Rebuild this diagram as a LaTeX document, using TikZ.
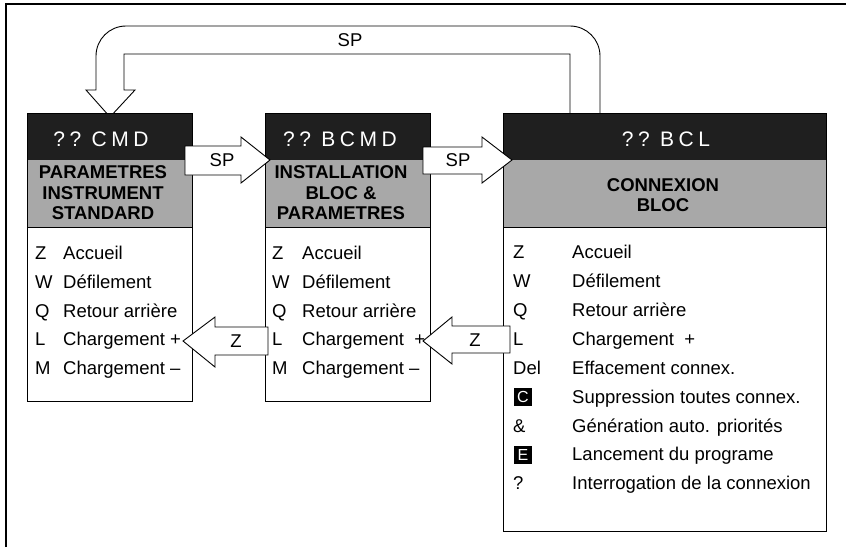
\documentclass[tikz,border=0pt]{standalone}
\usepackage{fontspec}
\setmainfont{Liberation Sans}
\begin{document}
\begin{tikzpicture}[x=1pt,y=-1pt]
\tikzset{
  frameline/.style={line width=1.4pt},
  boxline/.style={draw=black, line width=1pt},
  hdrfill/.style={fill=black!88},
  bandfill/.style={fill=black!34},
  blockarrow/.style={draw=black, fill=white, line width=0.9pt, line join=miter},
  hdrtext/.style={text=white, inner sep=0pt, font=\fontsize{21}{21}\selectfont},
  bandtext/.style={inner sep=0pt, align=center, font=\bfseries\fontsize{18.5}{20.5}\selectfont},
  itemtext/.style={anchor=base west, inner sep=0pt, font=\fontsize{18.5}{20}\selectfont},
  lbl/.style={inner sep=0pt, font=\fontsize{18.5}{20}\selectfont},
  capletter/.style={text=white, inner sep=0pt, font=\fontsize{16}{16}\selectfont}
}
\newcommand{\gap}{\kern4.5pt}
% canvas
\useasboundingbox (0,0) rectangle (846,547);
\fill[white] (0,0) rectangle (846,547);
\draw[frameline] (6,547) -- (6,4) -- (846,4);

% return loop from BCL back to CMD
\draw[blockarrow] (570,113) -- (570,54) -- (124,54) -- (124,90) -- (135,90) -- (110,117)
  -- (86,90) -- (96,90) -- (96,56) .. controls (96,39.4) and (109.4,26) .. (126,26)
  -- (570,26) .. controls (586.6,26) and (600,39.4) .. (600,56) -- (600,113);
\node[lbl] (sploop) at (350,40) {SP};

% box CMD
\fill[hdrfill] (27,113) rectangle (192,160);
\fill[bandfill] (27,160) rectangle (192,227);
\draw[boxline] (27,113) rectangle (192,401);
\draw[boxline] (27,227) -- (192,227);
\node[hdrtext] (h1) at (101,139) {?\gap?\gap\ C\gap M\gap D};
\node[bandtext] (t1) at (103,193) {PARAMETRES\\INSTRUMENT\\STANDARD};

% box BCMD
\fill[hdrfill] (265,113) rectangle (430,160);
\fill[bandfill] (265,160) rectangle (430,227);
\draw[boxline] (265,113) rectangle (430,401);
\draw[boxline] (265,227) -- (430,227);
\node[hdrtext] (h2) at (340,139) {?\gap?\gap\ B\gap C\gap M\gap D};
\node[bandtext] (t2) at (341,193) {INSTALLATION\\BLOC \&\\PARAMETRES};

% box BCL
\fill[hdrfill] (503,113) rectangle (826,160);
\fill[bandfill] (503,160) rectangle (826,227);
\draw[boxline] (503,113) rectangle (826,531);
\draw[boxline] (503,227) -- (826,227);
\node[hdrtext] (h3) at (666,139) {?\gap?\gap\ B\gap C\gap L};
\node[bandtext] (t3) at (663,195) {CONNEXION\\BLOC};

% key lists
\foreach \k/\t [count=\i] in {Z/Accueil, W/Défilement, Q/Retour arrière, L/Chargement +, M/Chargement –} {
  \node[itemtext] (ka\i) at (35,{259.6+(\i-1)*28.75}) {\k};
  \node[itemtext] (ta\i) at (63,{259.6+(\i-1)*28.75}) {\t};
}
\foreach \k/\t [count=\i] in {Z/Accueil, W/Défilement, Q/Retour arrière, L/Chargement\ \ +, M/Chargement –} {
  \node[itemtext] (kb\i) at (272,{259.6+(\i-1)*28.75}) {\k};
  \node[itemtext] (tb\i) at (302,{259.6+(\i-1)*28.75}) {\t};
}
\foreach \k/\t [count=\i] in {Z/Accueil, W/Défilement, Q/Retour arrière, L/Chargement\ \ +,
    Del/Effacement connex., {}/Suppression toutes connex., \&/Génération auto. priorités,
    {}/Lancement du programe, ?/Interrogation de la connexion} {
  \node[itemtext] (kc\i) at (513,{258.6+(\i-1)*28.9}) {\k};
  \node[itemtext] (tc\i) at (572,{258.6+(\i-1)*28.9}) {\t};
}
% black key caps
\fill (514,388) rectangle (532,406);
\node[capletter] (capc) at (523,397) {C};
\fill (514,446) rectangle (532,464);
\node[capletter] (cape) at (523,455) {E};

% forward transitions
\draw[blockarrow] (185,146) -- (241,146) -- (241,137) -- (270,160) -- (241,183) -- (241,175)
  -- (185,175) -- cycle;
\node[lbl] (sp1) at (222,160) {SP};
\draw[blockarrow] (423,147) -- (482,147) -- (482,137) -- (512,160) -- (482,183) -- (482,174)
  -- (423,174) -- cycle;
\node[lbl] (sp2) at (458,160) {SP};

% backward transitions
\draw[blockarrow] (268,327) -- (215,327) -- (215,317) -- (183,341) -- (215,367) -- (215,355)
  -- (268,355) -- cycle;
\node[lbl] (z1) at (236,341) {Z};
\draw[blockarrow] (510,326) -- (452,326) -- (452,317) -- (423,341) -- (452,364) -- (452,353)
  -- (510,353) -- cycle;
\node[lbl] (z2) at (475,340) {Z};
\end{tikzpicture}
\end{document}
